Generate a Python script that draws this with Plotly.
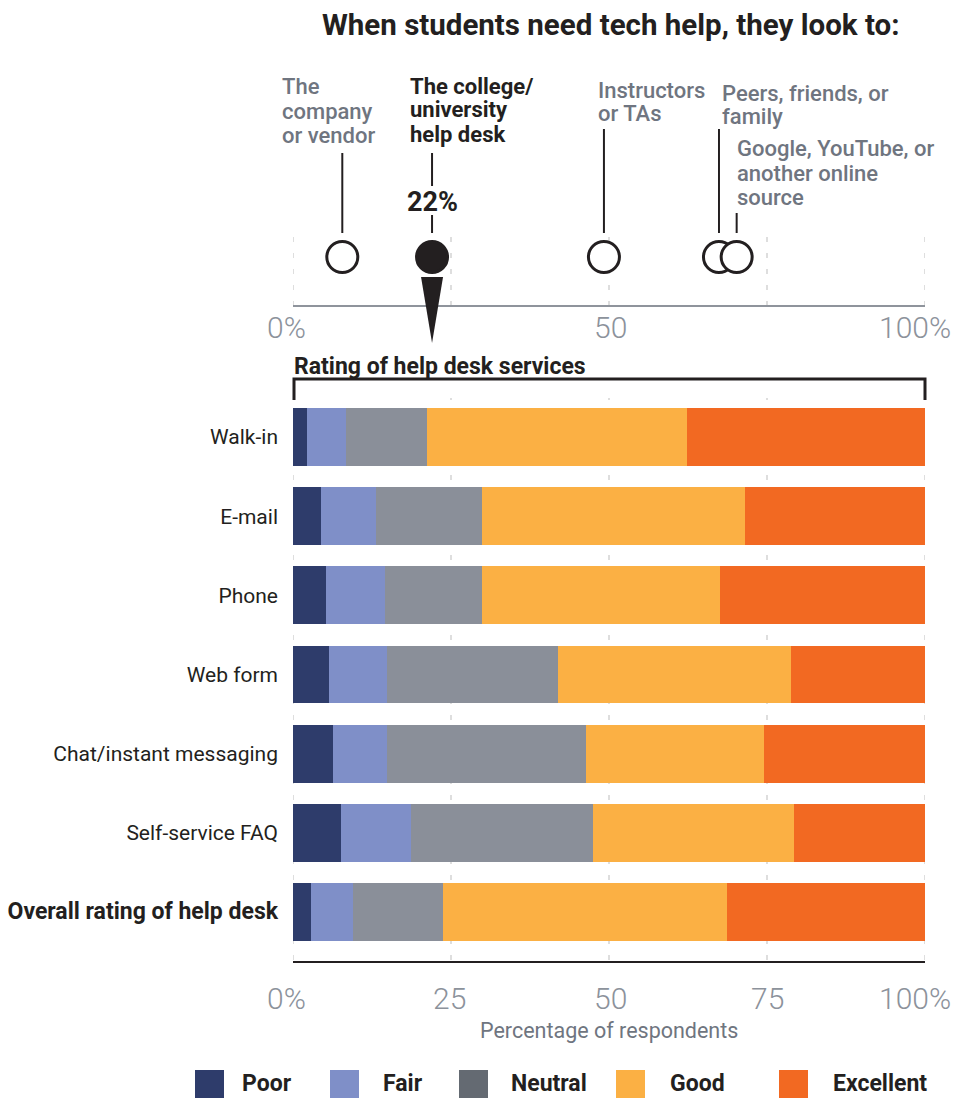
import plotly.graph_objects as go

# ---------------------------------------------------------------- data
CATEGORIES = [
    "Walk-in",
    "E-mail",
    "Phone",
    "Web form",
    "Chat/instant messaging",
    "Self-service FAQ",
    "Overall rating of help desk",
]
RATINGS = ["Poor", "Fair", "Neutral", "Good", "Excellent"]

POOR = [2.2, 4.4, 5.2, 5.7, 6.3, 7.6, 2.9]
FAIR = [6.2, 8.7, 9.4, 9.2, 8.5, 11.0, 6.6]
NEUTRAL = [12.8, 16.8, 15.3, 27.0, 31.5, 28.9, 14.2]
GOOD = [41.1, 41.6, 37.6, 36.9, 28.3, 31.7, 45.0]
EXCELLENT = [37.7, 28.5, 32.5, 21.2, 25.4, 20.8, 31.3]

SOURCES = [
    ["The", "company", "or vendor"],
    ["The college/", "university", "help desk"],
    ["Instructors", "or TAs"],
    ["Peers, friends, or", "family"],
    ["Google, YouTube, or", "another online", "source"],
]
SOURCE_PCT = [7.8, 22, 49.2, 67.4, 70.2]
HIGHLIGHT = 1  # the help desk
HIGHLIGHT_LABEL = "22%"

TOP_TICKS = [0, 50, 100]
TOP_TICK_TEXT = ["0%", "50", "100%"]
BOTTOM_TICKS = [0, 25, 50, 75, 100]
BOTTOM_TICK_TEXT = ["0%", "25", "50", "75", "100%"]

# ---------------------------------------------------------------- style
W, H = 954, 1099
FONT = "Roboto"
INK = "#231f20"
GRAY_TEXT = "#6f7580"
TICK_GRAY = "#8c929b"
GRID = "#dedede"
BAR_COLORS = ["#2e3c6b", "#7f8fc8", "#8a8f99", "#fbb044", "#f26922"]
LEGEND_COLORS = ["#2e3c6b", "#7f8fc8", "#646a72", "#fbb044", "#f26922"]


def px(x):
    return x / W


def py(y):
    return 1 - y / H


X_LEFT, X_RIGHT = 293, 925

fig = go.Figure()

# stacked horizontal bars
for name, vals, col in zip(RATINGS, [POOR, FAIR, NEUTRAL, GOOD, EXCELLENT], BAR_COLORS):
    fig.add_trace(go.Bar(
        y=CATEGORIES, x=vals, name=name, orientation="h",
        marker=dict(color=col, line=dict(width=0)),
        xaxis="x", yaxis="y", showlegend=False,
        hovertemplate="%{y}<br>" + name + ": %{x:.1f}%<extra></extra>",
    ))

# where students look for help: dot row
dot_fill = ["white"] * len(SOURCE_PCT)
dot_fill[HIGHLIGHT] = INK
fig.add_trace(go.Scatter(
    x=SOURCE_PCT, y=[0.5] * len(SOURCE_PCT), mode="markers",
    marker=dict(size=31, color=dot_fill, line=dict(color=INK, width=3)),
    xaxis="x2", yaxis="y2", showlegend=False, cliponaxis=False,
    hovertemplate="%{x}%<extra></extra>",
))

shapes = []
annotations = []

# title
annotations.append(dict(
    text="<b>When students need tech help, they look to:</b>",
    x=px(610), y=py(25), xref="paper", yref="paper",
    xanchor="center", yanchor="middle", showarrow=False,
    font=dict(family=FONT, size=29.5, color=INK),
))

# ---- top panel
for t in BOTTOM_TICKS:
    shapes.append(dict(type="line", xref="x2", yref="paper", x0=t, x1=t,
                       y0=py(306), y1=py(233), layer="below",
                       line=dict(color=GRID, width=2, dash="5px,11px")))
shapes.append(dict(type="line", xref="x2", yref="paper", x0=0, x1=100.3,
                   y0=py(306), y1=py(306), line=dict(color="#8f949c", width=2)))

for t, lab, sh in zip(TOP_TICKS, TOP_TICK_TEXT, [-7, 1, -10]):
    annotations.append(dict(
        text=lab, x=t, y=py(327), xref="x2", yref="paper", xshift=sh,
        xanchor="center", yanchor="middle", showarrow=False,
        font=dict(family=FONT, size=30, color=TICK_GRAY, weight=300),
    ))

label_top = [87, 86, 90, 93, 149]
label_shift = [-62, -24, -8, 1, -1.5]
leaders = [
    [(153, 233)],
    [(153, 186), (215, 233)],
    [(129, 233)],
    [(129, 233)],
    [(213, 233)],
]
LINE_PITCH = 24
for i, (lines, v) in enumerate(zip(SOURCES, SOURCE_PCT)):
    hl = i == HIGHLIGHT
    for k, line in enumerate(lines):
        annotations.append(dict(
            text=line, x=v, y=py(label_top[i] + k * LINE_PITCH),
            xref="x2", yref="paper", xshift=label_shift[i],
            xanchor="left", yanchor="middle", showarrow=False,
            font=dict(family=FONT, size=22, color=INK if hl else GRAY_TEXT,
                      weight=700 if hl else 500),
        ))
    for y0, y1 in leaders[i]:
        shapes.append(dict(type="line", xref="x2", yref="paper", x0=v, x1=v,
                           y0=py(y0), y1=py(y1), line=dict(color=INK, width=2)))

annotations.append(dict(
    text="<b>" + HIGHLIGHT_LABEL + "</b>", x=SOURCE_PCT[HIGHLIGHT], y=py(202),
    xref="x2", yref="paper", xanchor="center", yanchor="middle", showarrow=False,
    font=dict(family=FONT, size=27, color=INK),
))

# pointer from the help-desk dot down to the ratings
shapes.append(dict(
    type="path", xref="x2", yref="paper", xsizemode="pixel",
    xanchor=SOURCE_PCT[HIGHLIGHT],
    path=f"M -11,{py(277)} L 11,{py(277)} L 0,{py(343)} Z",
    fillcolor=INK, line=dict(width=0),
))

# ---- bar panel
for t in BOTTOM_TICKS:
    shapes.append(dict(type="line", xref="x", yref="paper", x0=t, x1=t,
                       y0=py(960), y1=py(398), layer="below",
                       line=dict(color=GRID, width=2, dash="5px,11px")))
shapes.append(dict(type="line", xref="x", yref="paper", x0=0, x1=100.3,
                   y0=py(962), y1=py(962), line=dict(color=INK, width=2)))

# bracket over the ratings
shapes.append(dict(
    type="path", xref="paper", yref="paper",
    path=(f"M {px(294)},{py(400)} L {px(294)},{py(379)} "
          f"L {px(925)},{py(379)} L {px(925)},{py(400)}"),
    line=dict(color=INK, width=3),
))
annotations.append(dict(
    text="<b>Rating of help desk services</b>", x=px(292), y=py(366),
    xref="paper", yref="paper", xanchor="left", yanchor="middle", showarrow=False,
    font=dict(family=FONT, size=23, color=INK),
))

for t, lab, sh in zip(BOTTOM_TICKS, BOTTOM_TICK_TEXT, [-7, -2, 1, 0, -10]):
    annotations.append(dict(
        text=lab, x=t, y=py(998), xref="x", yref="paper", xshift=sh,
        xanchor="center", yanchor="middle", showarrow=False,
        font=dict(family=FONT, size=30, color=TICK_GRAY, weight=300),
    ))
annotations.append(dict(
    text="Percentage of respondents", x=50, y=py(1030), xref="x", yref="paper",
    xanchor="center", yanchor="middle", showarrow=False,
    font=dict(family=FONT, size=21.5, color=GRAY_TEXT),
))

# legend
legend_sq = [195, 330, 459, 616, 779]
legend_txt = [240, 381, 509, 668, 831]
for name, col, sx, tx in zip(RATINGS, LEGEND_COLORS, legend_sq, legend_txt):
    shapes.append(dict(type="rect", xref="paper", yref="paper",
                       x0=px(sx), x1=px(sx + 29), y0=py(1098), y1=py(1070),
                       fillcolor=col, line=dict(width=0)))
    annotations.append(dict(
        text="<b>" + name + "</b>", x=px(tx), y=py(1083), xref="paper", yref="paper",
        xanchor="left", yanchor="middle", showarrow=False,
        font=dict(family=FONT, size=23, color=INK),
    ))

tick_text = [
    ("<span style='font-size:23px'><b>" + c + "</b></span>") if c.startswith("Overall") else c
    for c in CATEGORIES
]

fig.update_layout(
    width=W, height=H,
    margin=dict(l=0, r=0, t=0, b=0),
    paper_bgcolor="white", plot_bgcolor="rgba(0,0,0,0)",
    barmode="stack", bargap=0.27,
    font=dict(family=FONT, color=INK),
    xaxis=dict(domain=[px(X_LEFT), px(X_RIGHT)], range=[0, 100], anchor="y",
               showgrid=False, zeroline=False, showticklabels=False, ticks="",
               fixedrange=True),
    yaxis=dict(domain=[py(951.6), py(397.4)], anchor="x",
               categoryorder="array", categoryarray=CATEGORIES,
               range=[len(CATEGORIES) - 0.5, -0.5],
               tickmode="array", tickvals=CATEGORIES, ticktext=tick_text,
               ticks="", showgrid=False, zeroline=False, showline=False,
               ticklabelstandoff=14,
               tickfont=dict(family=FONT, size=21, color=INK), fixedrange=True),
    xaxis2=dict(domain=[px(X_LEFT), px(X_RIGHT)], range=[0, 100], anchor="y2",
                showgrid=False, zeroline=False, showticklabels=False, ticks="",
                fixedrange=True),
    yaxis2=dict(domain=[py(306), py(208)], range=[0, 1], anchor="x2",
                visible=False, fixedrange=True),
    shapes=shapes,
    annotations=annotations,
)

fig.write_html("out.html")
